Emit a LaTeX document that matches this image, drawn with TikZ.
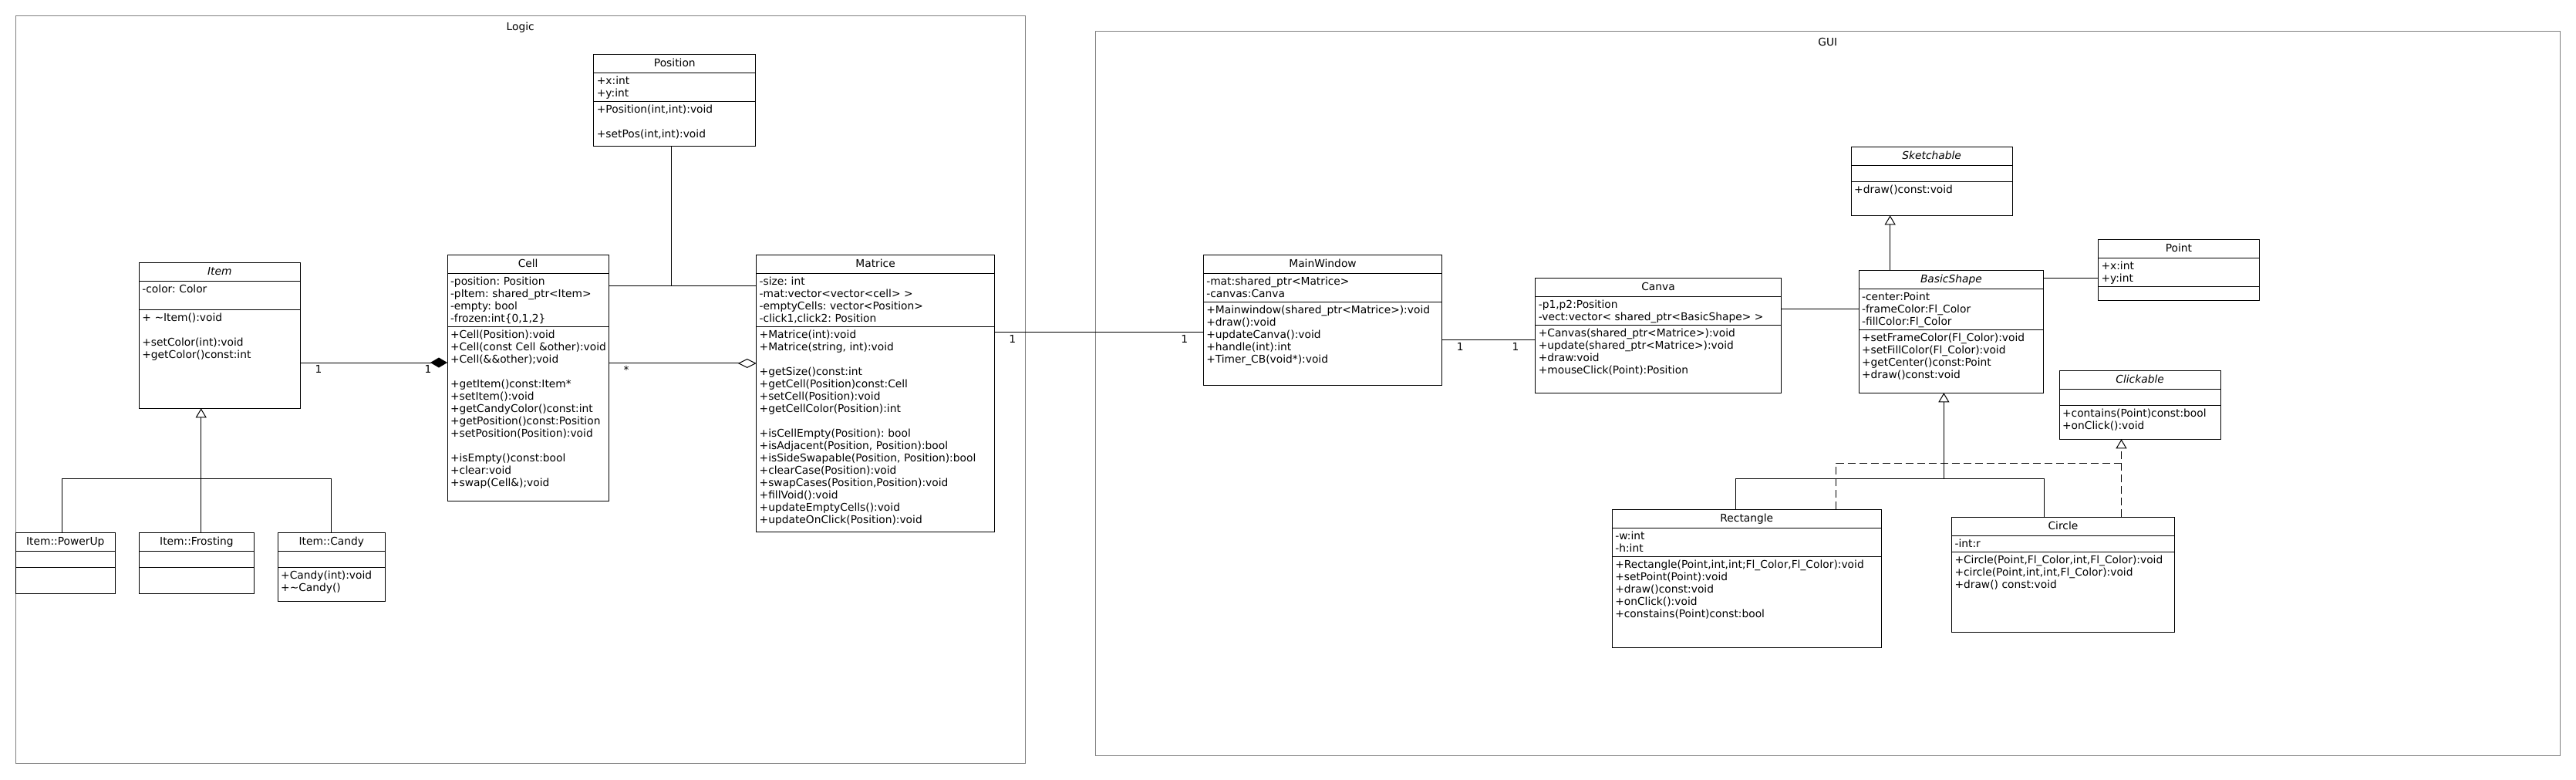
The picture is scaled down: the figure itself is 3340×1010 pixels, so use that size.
\documentclass[tikz,border=0pt]{standalone}
\usepackage{fontspec}
\setmainfont{DejaVu Sans}
\usetikzlibrary{arrows.meta,positioning}
\definecolor{framegray}{RGB}{128,128,128}

\begin{document}
\begin{tikzpicture}[
    x=1pt, y=-1pt, line width=1pt,
    every node/.style={font=\fontsize{13.8pt}{16pt}\selectfont\frenchspacing},
    pkgframe/.style={draw=framegray, anchor=north west, inner sep=0pt, outer sep=0pt},
    clsname/.style={draw, anchor=north west, inner sep=0pt, outer sep=0pt, minimum height=24pt, text height=10pt, text depth=2.5pt},
    compart/.style={draw, below=0pt of #1, inner xsep=4pt, inner ysep=3pt, outer sep=0pt, text height=12pt, align=left},
    inh/.style={-{Triangle[open, length=12pt, width=14pt]}},
    real/.style={inh, dash pattern=on 10pt off 5pt},
    comp/.style={-{Diamond[length=22pt, width=13pt]}},
    agg/.style={-{Diamond[open, length=24pt, width=12pt]}},
    mult/.style={below, inner sep=3pt}
  ]
    \useasboundingbox (0,0) rectangle (3340,1010);

    % Packages
    \node[pkgframe, minimum width=1309.5pt, minimum height=968.3pt] (logic) at (20,20.7) {};
    \node[below=7.5pt of logic.north, inner sep=0pt] (logicL) {Logic};
    \node[pkgframe, minimum width=1898.4pt, minimum height=938.7pt] (gui) at (1420.6,40.3) {};
    \node[below=8pt of gui.north, inner sep=0pt] (guiL) {GUI};

    % Logic: Item and its subclasses
    \node[clsname, minimum width=208.9pt] (itemT) at (180.4,340.3) {\itshape Item};
    \node[compart=itemT, text width=200.9pt, text depth=19pt] (itemA) {-color: Color};
    \node[compart=itemA, text width=200.9pt, text depth=110pt] (itemM) {+ \textasciitilde Item():void\\[16pt]
      +setColor(int):void\\
      +getColor()const:int};

    \node[clsname, minimum width=129.4pt] (powT) at (20.1,690.7) {Item::PowerUp};
    \node[compart=powT, text width=121.4pt, text depth=3pt] (powA) {};
    \node[compart=powA, text width=121.4pt, text depth=16pt] (powM) {};

    \node[clsname, minimum width=149pt, right=30.9pt of powT] (frostT) {Item::Frosting};
    \node[compart=frostT, text width=141pt, text depth=3pt] (frostA) {};
    \node[compart=frostA, text width=141pt, text depth=16pt] (frostM) {};

    \node[clsname, minimum width=139.3pt, right=30.8pt of frostT] (candyT) {Item::Candy};
    \node[compart=candyT, text width=131.3pt, text depth=3pt] (candyA) {};
    \node[compart=candyA, text width=131.3pt, text depth=26pt] (candyM) {+Candy(int):void\\
      +\textasciitilde Candy()};

    % Logic: Cell, Position, Matrice
    \node[clsname, minimum width=209.3pt] (cellT) at (580,330.5) {Cell};
    \node[compart=cellT, text width=201.3pt, text depth=51pt] (cellA) {-position: Position\\
      -pItem: shared\_ptr<Item>\\
      -empty: bool\\
      -frozen:int\{0,1,2\}};
    \node[compart=cellA, text width=201.3pt, text depth=208pt] (cellM) {+Cell(Position):void\\
      +Cell(const~Cell~\&other):void\\
      +Cell(\&\&other);void\\[16pt]
      +getItem()const:Item*\\
      +setItem():void\\
      +getCandyColor()const:int\\
      +getPosition()const:Position\\
      +setPosition(Position):void\\[16pt]
      +isEmpty()const:bool\\
      +clear:void\\
      +swap(Cell\&);void};

    \node[clsname, minimum width=209.8pt] (posT) at (769.9,70.3) {Position};
    \node[compart=posT, text width=201.8pt, text depth=19pt] (posA) {+x:int\\
      +y:int};
    \node[compart=posA, text width=201.8pt, text depth=40pt] (posM) {+Position(int,int):void\\[16pt]
      +setPos(int,int):void};

    \node[clsname, minimum width=308.8pt, right=191.4pt of cellT] (matT) {Matrice};
    \node[compart=matT, text width=300.8pt, text depth=51pt] (matA) {-size: int\\
      -mat:vector<vector<cell> >\\
      -emptyCells: vector<Position>\\
      -click1,click2: Position};
    \node[compart=matA, text width=300.8pt, text depth=248pt] (matM) {+Matrice(int):void\\
      +Matrice(string, int):void\\[16pt]
      +getSize()const:int\\
      +getCell(Position)const:Cell\\
      +setCell(Position):void\\
      +getCellColor(Position):int\\[16pt]
      +isCellEmpty(Position): bool\\
      +isAdjacent(Position, Position):bool\\
      +isSideSwapable(Position, Position):bool\\
      +clearCase(Position):void\\
      +swapCases(Position,Position):void\\
      +fillVoid():void\\
      +updateEmptyCells():void\\
      +updateOnClick(Position):void};

    % GUI: window and canvas
    \node[clsname, minimum width=309.4pt, right=270.8pt of matT] (mwT) {MainWindow};
    \node[compart=mwT, text width=301.4pt, text depth=18.7pt] (mwA) {-mat:shared\_ptr<Matrice>\\
      -canvas:Canva};
    \node[compart=mwA, text width=301.4pt, text depth=90.3pt] (mwM) {+Mainwindow(shared\_ptr<Matrice>):void\\
      +draw():void\\
      +updateCanva():void\\
      +handle(int):int\\
      +Timer\_CB(void*):void};

    \node[clsname, minimum width=318.5pt] (canT) at (1990.8,360.3) {Canva};
    \node[compart=canT, text width=310.5pt, text depth=19pt] (canA) {-p1,p2:Position\\
      -vect:vector< shared\_ptr<BasicShape> >};
    \node[compart=canA, text width=310.5pt, text depth=70pt] (canM) {+Canvas(shared\_ptr<Matrice>):void\\
      +update(shared\_ptr<Matrice>):void\\
      +draw:void\\
      +mouseClick(Point):Position};

    % GUI: shapes
    \node[clsname, minimum width=208.9pt] (sketchT) at (2400.2,190.3) {\itshape Sketchable};
    \node[compart=sketchT, text width=200.9pt, text depth=3pt] (sketchA) {};
    \node[compart=sketchA, text width=200.9pt, text depth=26pt] (sketchM) {+draw()const:void};

    \node[clsname, minimum width=239.5pt] (shapeT) at (2410.1,350.3) {\itshape BasicShape};
    \node[compart=shapeT, text width=231.5pt, text depth=35pt] (shapeA) {-center:Point\\
      -frameColor:Fl\_Color\\
      -fillColor:Fl\_Color};
    \node[compart=shapeA, text width=231.5pt, text depth=64pt] (shapeM) {+setFrameColor(Fl\_Color):void\\
      +setFillColor(Fl\_Color):void\\
      +getCenter()const:Point\\
      +draw()const:void};

    \node[clsname, minimum width=208.9pt] (ptT) at (2720.5,310.3) {Point};
    \node[compart=ptT, text width=200.9pt, text depth=19pt] (ptA) {+x:int\\
      +y:int};
    \node[compart=ptA, text width=200.9pt, text depth=0pt] (ptM) {};

    \node[clsname, minimum width=209pt] (clickT) at (2670.1,480.3) {\itshape Clickable};
    \node[compart=clickT, text width=201pt, text depth=3pt] (clickA) {};
    \node[compart=clickA, text width=201pt, text depth=26pt] (clickM) {+contains(Point)const:bool\\
      +onClick():void};

    \node[clsname, minimum width=349pt] (rectT) at (2090.3,660.3) {Rectangle};
    \node[compart=rectT, text width=341pt, text depth=19pt] (rectA) {-w:int\\
      -h:int};
    \node[compart=rectA, text width=341pt, text depth=100pt] (rectM) {+Rectangle(Point,int,int;Fl\_Color,Fl\_Color):void\\
      +setPoint(Point):void\\
      +draw()const:void\\
      +onClick():void\\
      +constains(Point)const:bool};

    \node[clsname, minimum width=288.8pt] (circT) at (2530.5,670.3) {Circle};
    \node[compart=circT, text width=280.8pt, text depth=3.4pt] (circA) {-int:r};
    \node[compart=circA, text width=280.8pt, text depth=85.6pt] (circM) {+Circle(Point,Fl\_Color,int,Fl\_Color):void\\
      +circle(Point,int,int,Fl\_Color):void\\
      +draw() const:void};

    % Item hierarchy
    \coordinate (itemJ) at ([xshift=5.8pt, yshift=70.4pt]frostT.north);
    \draw[inh] (itemJ |- frostT.north) -- (itemJ |- itemM.south);
    \draw ([xshift=-4.4pt]powT.north) |- (itemJ) -| (candyT.north);

    % Item -- Cell -- Matrice
    \coordinate (itemR) at ([yshift=-68.7pt]itemM.north east);
    \draw[comp] (itemR) -- (itemR -| cellM.west) node[mult, pos=0.124] {1} node[mult, pos=0.869] {1};
    \coordinate (cellR) at ([yshift=-47.4pt]cellM.north east);
    \draw[agg] (cellR) -- (cellR -| matM.west) node[mult, pos=0.119] {*};

    % Position link
    \coordinate (posJ) at ([yshift=-16pt]cellA.north east);
    \coordinate (posB) at ([xshift=-4.1pt]posM.south);
    \draw (posJ) -- (posJ -| matA.west);
    \draw (posB) -- (posB |- posJ);

    % Logic -> GUI
    \coordinate (matR) at ([yshift=-7pt]matM.north east);
    \draw (matR) -- (matR -| mwM.west) node[mult, pos=0.086] {1} node[mult, pos=0.909] {1};
    \coordinate (mwR) at ([yshift=-49.3pt]mwM.north east);
    \draw (mwR) -- (mwR -| canM.west) node[mult, pos=0.194] {1} node[mult, pos=0.787] {1};
    \coordinate (canR) at ([yshift=-16pt]canA.north east);
    \draw (canR) -- (canR -| shapeA.west);
    \coordinate (shapeR) at ([yshift=-10pt]shapeT.north east);
    \draw (shapeR) -- (shapeR -| ptA.west);

    % Shape hierarchy
    \coordinate (sketchB) at ([xshift=-54pt]sketchM.south);
    \draw[inh] (sketchB |- shapeT.north) -- (sketchB);
    \coordinate (shapeJ) at ([xshift=-24.4pt, yshift=50pt]circT.north);
    \coordinate (shapeB) at ([xshift=-9.5pt]shapeM.south);
    \draw[inh] (shapeB |- shapeJ) -- (shapeB);
    \draw ([xshift=-14.3pt]rectT.north) |- (shapeJ) -- ([xshift=-24.4pt]circT.north);

    % Clickable realizations
    \coordinate (clickB) at ([xshift=-24.1pt]clickM.south);
    \draw[real] (clickB |- circT.north) -- (clickB);
    \draw[dash pattern=on 10pt off 5pt] ([xshift=115.8pt]rectT.north) |- ([yshift=-31pt]clickB);
\end{tikzpicture}
\end{document}
